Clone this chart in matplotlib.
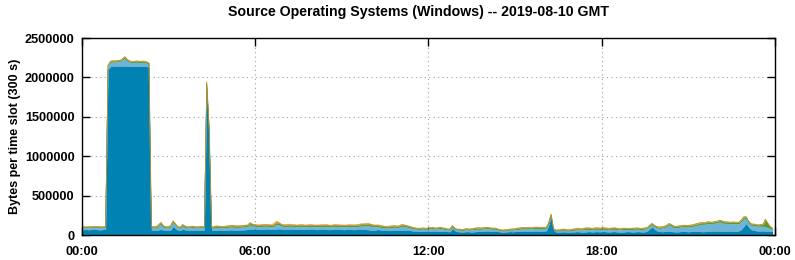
import numpy as np
import matplotlib
matplotlib.use("Agg")
import matplotlib.pyplot as plt

# 5-minute slots (300 s), 12 per hour, values in kB per slot
# layer 1: dark blue (bottom)
dark = [
    66, 68, 70, 67, 69, 72, 70, 68, 66, 70, 71, 2100,
    2140, 2145, 2138, 2142, 2140, 2140, 2145, 2142, 2140, 2138, 2140, 2142,
    2140, 2138, 2142, 2138, 2130, 65, 62, 60, 66, 70, 64, 62,
    60, 62, 110, 80, 62, 58, 75, 66, 60, 62, 64, 62,
    62, 60, 64, 62, 1880, 1300, 58, 60, 62, 64, 63, 60,
    62, 64, 66, 65, 63, 62, 64, 66, 68, 70, 72, 74,
    74, 72, 70, 72, 74, 76, 72, 70, 74, 78, 80, 76,
    72, 74, 76, 74, 72, 70, 72, 74, 72, 70, 72, 74,
    72, 70, 68, 72, 74, 72, 70, 68, 70, 72, 74, 72,
    70, 68, 70, 72, 70, 68, 70, 72, 74, 72, 70, 68,
    62, 60, 64, 70, 66, 62, 60, 58, 56, 60, 62, 60,
    58, 60, 62, 64, 60, 55, 50, 48, 46, 48, 50, 48,
    48, 46, 52, 48, 46, 44, 48, 50, 44, 42, 80, 55,
    44, 42, 40, 42, 44, 42, 40, 42, 44, 46, 48, 50,
    50, 48, 46, 48, 50, 44, 40, 38, 40, 42, 44, 42,
    44, 46, 48, 50, 48, 46, 48, 50, 52, 50, 48, 50,
    52, 54, 120, 235, 60, 40, 38, 40, 42, 40, 38, 40,
    40, 42, 44, 40, 38, 40, 42, 44, 40, 42, 44, 42,
    42, 44, 42, 40, 42, 44, 42, 40, 38, 40, 42, 44,
    42, 40, 42, 44, 42, 40, 42, 50, 80, 100, 70, 50,
    45, 42, 44, 46, 48, 44, 42, 40, 42, 44, 46, 44,
    42, 44, 46, 48, 46, 44, 42, 44, 46, 48, 50, 52,
    50, 48, 46, 48, 52, 50, 48, 46, 50, 54, 70, 110,
    145, 100, 70, 60, 55, 50, 52, 54, 50, 48, 46, 44,
]
# layer 2: light blue
light = [
    25, 26, 24, 25, 26, 24, 25, 27, 26, 25, 24, 40,
    50, 52, 55, 58, 60, 80, 100, 70, 55, 50, 48, 50,
    48, 52, 50, 45, 40, 30, 28, 30, 45, 70, 35, 30,
    30, 40, 50, 45, 30, 28, 40, 32, 28, 30, 32, 30,
    28, 30, 30, 28, 40, 40, 28, 30, 32, 30, 28, 30,
    32, 34, 36, 35, 33, 34, 36, 35, 34, 36, 60, 40,
    38, 36, 34, 36, 38, 36, 35, 34, 40, 55, 50, 40,
    36, 35, 34, 36, 38, 35, 34, 36, 35, 34, 36, 35,
    34, 35, 36, 34, 33, 35, 36, 34, 35, 36, 34, 35,
    35, 36, 34, 35, 36, 38, 36, 38, 40, 44, 48, 52,
    50, 46, 40, 36, 34, 32, 30, 32, 34, 36, 38, 36,
    40, 50, 45, 38, 34, 30, 28, 26, 25, 24, 26, 25,
    28, 35, 30, 26, 32, 40, 28, 22, 20, 22, 25, 20,
    18, 20, 18, 20, 22, 20, 24, 28, 30, 28, 26, 28,
    30, 32, 28, 26, 24, 18, 16, 14, 15, 16, 18, 20,
    22, 24, 26, 28, 30, 32, 30, 28, 30, 32, 34, 32,
    30, 28, 20, 15, 10, 12, 14, 16, 18, 16, 14, 16,
    18, 20, 22, 24, 26, 28, 30, 28, 26, 28, 30, 28,
    28, 30, 28, 26, 28, 30, 28, 26, 28, 30, 28, 26,
    28, 30, 32, 30, 28, 30, 32, 30, 30, 30, 35, 40,
    40, 45, 50, 60, 80, 70, 55, 52, 55, 58, 60, 58,
    60, 62, 65, 70, 80, 90, 95, 92, 100, 95, 90, 100,
    105, 120, 110, 100, 95, 90, 95, 100, 90, 88, 100, 95,
    70, 60, 55, 60, 65, 60, 62, 58, 55, 45, 40, 30,
]
# layer 3: green
green = [
    8, 9, 8, 10, 9, 8, 9, 10, 9, 8, 9, 12,
    12, 12, 14, 13, 12, 14, 15, 13, 12, 12, 14, 15,
    14, 13, 12, 12, 12, 10, 12, 14, 15, 16, 14, 12,
    12, 14, 16, 14, 12, 13, 15, 14, 12, 12, 13, 12,
    12, 13, 12, 12, 20, 20, 14, 15, 16, 15, 14, 15,
    16, 15, 16, 18, 17, 16, 15, 16, 18, 17, 20, 18,
    18, 16, 17, 18, 16, 17, 18, 17, 18, 20, 18, 17,
    16, 17, 18, 16, 17, 18, 16, 17, 18, 17, 16, 17,
    17, 16, 18, 17, 16, 17, 18, 17, 16, 18, 17, 16,
    17, 18, 16, 17, 18, 17, 18, 17, 18, 19, 20, 20,
    20, 19, 18, 17, 16, 17, 16, 15, 16, 17, 16, 15,
    16, 18, 17, 16, 15, 14, 13, 12, 12, 13, 12, 11,
    11, 12, 12, 11, 12, 13, 12, 11, 10, 11, 12, 11,
    10, 11, 10, 11, 12, 11, 12, 13, 14, 13, 12, 13,
    14, 13, 12, 12, 11, 10, 9, 9, 10, 10, 11, 12,
    12, 13, 14, 15, 14, 15, 14, 13, 14, 15, 14, 13,
    12, 12, 14, 12, 10, 9, 10, 10, 11, 10, 10, 11,
    12, 12, 13, 12, 13, 14, 13, 12, 13, 12, 13, 12,
    12, 13, 12, 13, 12, 13, 12, 13, 12, 13, 12, 12,
    12, 13, 12, 13, 12, 13, 14, 13, 14, 15, 14, 13,
    14, 15, 14, 15, 16, 15, 14, 15, 16, 15, 16, 17,
    18, 17, 18, 19, 18, 20, 19, 18, 20, 19, 20, 18,
    17, 18, 20, 19, 18, 20, 18, 17, 18, 19, 20, 22,
    16, 15, 16, 15, 14, 16, 18, 22, 90, 55, 20, 10,
]
# layer 4: orange (top)
orange = [
    4, 5, 6, 4, 5, 6, 5, 4, 5, 6, 5, 4,
    4, 5, 4, 5, 4, 5, 4, 5, 4, 5, 4, 4,
    4, 5, 4, 5, 4, 4, 5, 4, 5, 6, 5, 4,
    4, 5, 5, 4, 5, 4, 5, 4, 5, 4, 5, 4,
    4, 5, 4, 5, 8, 8, 4, 5, 6, 5, 4, 5,
    5, 6, 5, 6, 5, 8, 6, 5, 6, 5, 8, 6,
    6, 5, 8, 10, 8, 6, 8, 12, 18, 22, 12, 6,
    6, 8, 10, 8, 6, 5, 6, 8, 6, 5, 6, 8,
    8, 6, 5, 6, 8, 10, 8, 6, 5, 6, 8, 6,
    6, 5, 6, 8, 6, 5, 6, 8, 10, 8, 8, 10,
    8, 6, 5, 6, 8, 6, 5, 6, 8, 6, 5, 4,
    5, 8, 6, 5, 4, 5, 4, 3, 4, 3, 4, 3,
    3, 4, 5, 4, 3, 4, 3, 4, 3, 4, 5, 4,
    3, 4, 3, 4, 3, 4, 5, 4, 5, 6, 5, 4,
    4, 5, 4, 3, 4, 3, 4, 3, 4, 3, 4, 4,
    4, 5, 4, 5, 4, 5, 4, 5, 4, 5, 4, 5,
    5, 6, 8, 5, 4, 3, 4, 5, 6, 8, 6, 5,
    6, 8, 10, 8, 6, 8, 10, 8, 6, 8, 10, 8,
    8, 10, 8, 6, 8, 10, 8, 6, 5, 6, 5, 4,
    4, 5, 4, 5, 4, 5, 4, 5, 4, 5, 4, 5,
    4, 5, 4, 5, 4, 5, 4, 5, 4, 5, 4, 5,
    4, 5, 4, 5, 4, 5, 4, 5, 4, 5, 4, 5,
    4, 5, 4, 5, 4, 5, 4, 5, 4, 5, 4, 5,
    4, 5, 4, 5, 4, 5, 4, 5, 6, 5, 4, 3,
]

colors = ["#0083b3", "#6db5d8", "#5b9b2f", "#d98a1e"]
edges = ["#1a6f94", "#5aa3c8", "#5b9b2f", "#d98a1e"]

title = "Source Operating Systems (Windows) -- 2019-08-10 GMT"
ylabel = "Bytes per time slot (300 s)"
xtick_labels = ["00:00", "06:00", "12:00", "18:00", "00:00"]
yticks = [0, 500000, 1000000, 1500000, 2000000, 2500000]

plt.rcParams['font.family'] = ['Liberation Sans', 'DejaVu Sans']
plt.rcParams['font.weight'] = 'bold'

layers = np.array([dark, light, green, orange], dtype=float) * 1000
hours = np.arange(layers.shape[1]) * 5 / 60.0
tops = np.cumsum(layers, axis=0)

fig = plt.figure(figsize=(7.95, 2.6), dpi=100)
ax = fig.add_axes([81.5/795, 1 - 235/260, (775 - 81.5)/795, (235 - 38)/260])

bottom = np.zeros(len(hours))
for i in range(4):
    ax.fill_between(hours, bottom, tops[i], color=colors[i], lw=0, zorder=2 + i)
    ax.plot(hours, tops[i], color=edges[i], lw=0.4, zorder=2.5 + i)
    bottom = tops[i]

ax.set_xlim(0, 24)
ax.set_ylim(0, 2500000)
ax.set_xticks([0, 6, 12, 18, 24])
ax.set_xticklabels(xtick_labels)
ax.set_yticks(yticks)
ax.set_yticklabels([str(v) for v in yticks])
ax.tick_params(direction='in', length=6, width=1, top=True, right=True,
               labelsize=9.2, pad=5)
ax.tick_params(axis='x', pad=8)
ax.grid(True, color='#a0a0a0', linestyle=(0, (1, 3)), lw=0.8, zorder=1)
for s in ax.spines.values():
    s.set_linewidth(1.0)
    s.set_zorder(10)

ax.set_ylabel(ylabel, fontsize=9, fontweight='bold', labelpad=3)
fig.text(0.527, 1 - 12/260, title, ha='center', va='center',
         fontsize=10.2, fontweight='bold')

fig.savefig("out.png", dpi=100)
